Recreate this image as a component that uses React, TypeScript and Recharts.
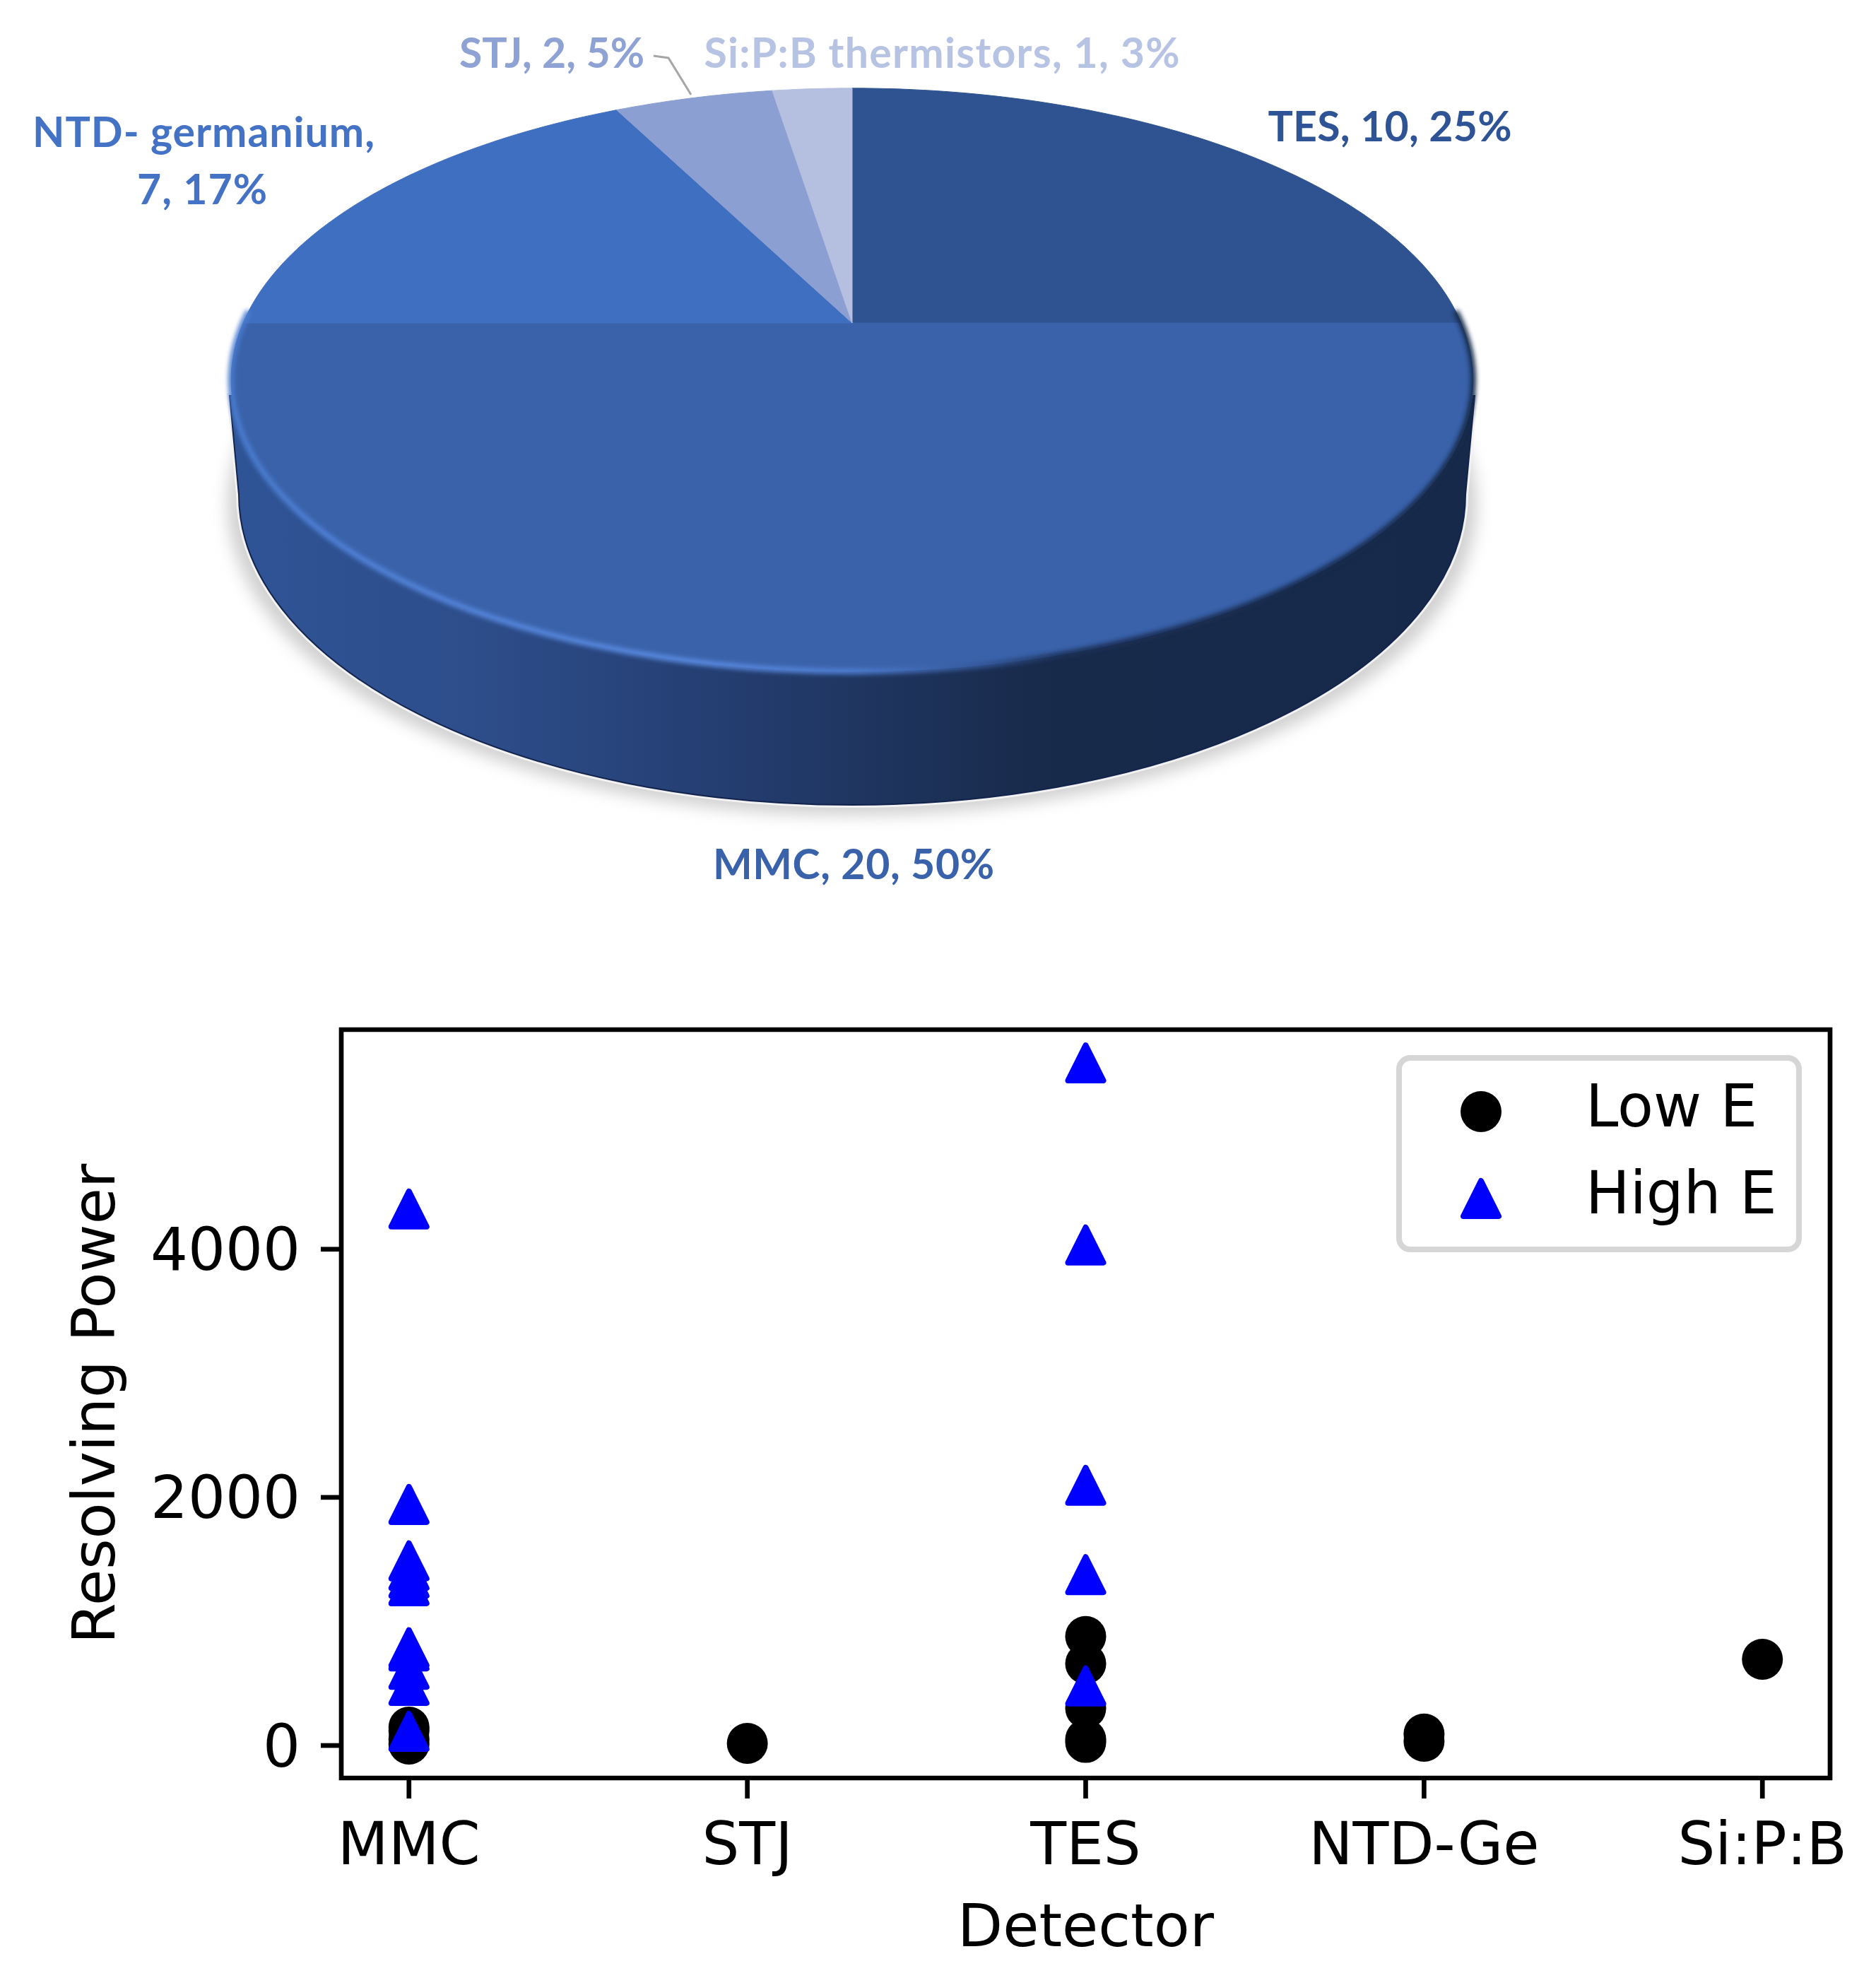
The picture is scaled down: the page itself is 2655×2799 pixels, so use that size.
// 검출기 파이차트 + 분해능 산점도

import React from 'react';
import {
  PieChart,
  Pie,
  ScatterChart,
  Scatter,
  XAxis,
  YAxis,
  Legend,
  ReferenceArea,
} from 'recharts';

const PIE_NAMES = ['TES', 'MMC', 'NTD- germanium', 'STJ', 'Si:P:B thermistors'];
const PIE_VALUES = [10, 20, 7, 2, 1];
const PIE_PERCENTS = [25, 50, 17, 5, 3];
const PIE_COLORS = ['#2f5391', '#3a62aa', '#3f6fc0', '#8c9fd2', '#b5c0e0'];
const LABEL_COLORS = ['#2f5496', '#3a62aa', '#4472c4', '#8fa2d4', '#b7c3e2'];

const DETECTORS = ['MMC', 'STJ', 'TES', 'NTD-Ge', 'Si:P:B'];

const LOW_MMC = [148, 120, 50, 11];
const LOW_STJ = [17];
const LOW_TES = [879, 660, 300, 50, 25];
const LOW_NTD = [93, 34];
const LOW_SIPB = [695];

const HIGH_MMC = [4324, 1943, 1488, 1411, 1349, 1288, 788, 762, 614, 484, 114];
const HIGH_TES = [5502, 4034, 2097, 1377, 480];

const Y_TICKS = [0, 2000, 4000];
const X_TICKS = [0, 1, 2, 3, 4];
const X_DOMAIN = [-0.2, 4.2];
const Y_DOMAIN = [-262, 5770];

const pieData = PIE_NAMES.map((name, i) => ({
  name,
  value: PIE_VALUES[i],
  fill: PIE_COLORS[i],
}));

const toPoints = (x: number, values: number[]) => values.map((y) => ({ x, y }));

const lowData = [
  ...toPoints(0, LOW_MMC),
  ...toPoints(1, LOW_STJ),
  ...toPoints(2, LOW_TES),
  ...toPoints(3, LOW_NTD),
  ...toPoints(4, LOW_SIPB),
];
const highData = [...toPoints(0, HIGH_MMC), ...toPoints(2, HIGH_TES)];

const MPL_FONT = '"DejaVu Sans"';
const MPL_SIZE = 83.3;
const LINE_W = 6.67;

// 원근 투영 (위쪽 면)
const PIE_CX = 1206;
const PIE_CY = 457;
const PERSP = 0.195;
const RAD_X = 862;
const RAD_Y = 397;

const project = (deg: number) => {
  const t = (deg * Math.PI) / 180;
  const d = 1 + PERSP * Math.sin(t);
  return [PIE_CX + (RAD_X * Math.cos(t)) / d, PIE_CY - (RAD_Y * Math.sin(t)) / d];
};

function PerspectiveSlice(props: any) {
  const { startAngle, endAngle, fill } = props;
  const steps = Math.max(4, Math.ceil(Math.abs(endAngle - startAngle)));
  let d = `M ${PIE_CX} ${PIE_CY}`;
  for (let i = 0; i <= steps; i++) {
    const [x, y] = project(startAngle + ((endAngle - startAngle) * i) / steps);
    d += ` L ${x.toFixed(1)} ${y.toFixed(1)}`;
  }
  return <path d={`${d} Z`} fill={fill} stroke={fill} strokeWidth={1} />;
}

// 라벨 위치
const LABEL_POS = [
  { x: 1967, y: 177, w: 345 },
  { x: 1208, y: 1221, w: 398 },
  { x: 288, y: 185, w: 484 },
  { x: 781, y: 73, w: 262 },
  { x: 1333, y: 73, w: 673 },
];

function renderPieLabel(props: any) {
  const { index } = props;
  const pos = LABEL_POS[index];
  const common = {
    textAnchor: 'middle' as const,
    dominantBaseline: 'central' as const,
    fontFamily: 'Lato',
    fontWeight: 700,
    fontSize: 59,
    fill: LABEL_COLORS[index],
    textLength: pos.w,
  };
  const tail = `${PIE_VALUES[index]}, ${PIE_PERCENTS[index]}%`;
  if (index === 2) {
    return (
      <g key={index}>
        <text x={pos.x} y={pos.y} {...common}>{`${PIE_NAMES[index]},`}</text>
        <text x={pos.x - 2} y={pos.y + 81} {...common} textLength={184}>{tail}</text>
      </g>
    );
  }
  return (
    <text key={index} x={pos.x} y={pos.y} {...common}>
      {`${PIE_NAMES[index]}, ${tail}`}
    </text>
  );
}

function renderPieLabelLine(props: any) {
  if (props.index !== 3) return <g key={props.index} />;
  return (
    <polyline
      key={props.index}
      points="925,79 946,82 978,134"
      fill="none"
      stroke="#a6a6a6"
      strokeWidth={3}
    />
  );
}

// 원기둥 옆면 + 그림자
const WALL_PATH = 'M 325 560 L 338 700 A 868 439 0 0 0 2074 700 L 2087 560 Z';

function PieBase() {
  return (
    <svg width={2655} height={1300} style={{ position: 'absolute', left: 0, top: 0 }}>
      <defs>
        <linearGradient id="wall" x1="0" x2="1" y1="0" y2="0">
          <stop offset="0" stopColor="#2f5496" />
          <stop offset="0.2" stopColor="#2d4d8a" />
          <stop offset="0.38" stopColor="#253f73" />
          <stop offset="0.66" stopColor="#182a4a" />
          <stop offset="1" stopColor="#17294a" />
        </linearGradient>
        <filter id="soft" x="-10%" y="-10%" width="120%" height="120%">
          <feGaussianBlur stdDeviation="11" />
        </filter>
      </defs>
      <ellipse cx={1206} cy={714} rx={884} ry={440} fill="#d0d0d0" filter="url(#soft)" />
      <path d={WALL_PATH} fill="#f2f2f2" stroke="#f2f2f2" strokeWidth={8} />
      <path d={WALL_PATH} fill="url(#wall)" stroke="#12234c" strokeWidth={2} />
    </svg>
  );
}

// 위쪽 면 가장자리 하이라이트
function PieRim() {
  return (
    <svg width={2655} height={1300} style={{ position: 'absolute', left: 0, top: 0, pointerEvents: 'none' }}>
      <defs>
        <linearGradient id="rim" gradientUnits="userSpaceOnUse" x1="327" x2="2085" y1="0" y2="0">
          <stop offset="0" stopColor="#4a7ccf" />
          <stop offset="0.11" stopColor="#5282d8" />
          <stop offset="0.38" stopColor="#5a8ae0" />
          <stop offset="0.5" stopColor="#4f7dd0" />
          <stop offset="0.6" stopColor="#34589a" />
          <stop offset="0.67" stopColor="#1c3058" />
          <stop offset="1" stopColor="#172a4a" />
        </linearGradient>
        <filter id="softRim" x="-5%" y="-5%" width="110%" height="110%">
          <feGaussianBlur stdDeviation="3" />
        </filter>
      </defs>
      <path
        d="M 352 440 A 879 412.5 0 1 0 2060 440"
        fill="none"
        stroke="url(#rim)"
        strokeWidth={8}
        filter="url(#softRim)"
      />
    </svg>
  );
}

function CircleMark(props: any) {
  return <circle cx={props.cx} cy={props.cy} r={29} fill="#000" />;
}

function TriangleMark(props: any) {
  const { cx, cy } = props;
  return (
    <polygon
      points={`${cx},${cy - 25} ${cx + 25},${cy + 25} ${cx - 25},${cy + 25}`}
      fill="#0000ff"
      stroke="#0000ff"
      strokeWidth={8}
      strokeLinejoin="round"
    />
  );
}

function ScatterLegend({ payload }: any) {
  const rows = [
    { cy: 80, base: 101 },
    { cy: 203, base: 224 },
  ];
  return (
    <svg width={574} height={279} style={{ display: 'block' }}>
      <rect x={4} y={4} width={566} height={271} rx={16} fill="#fff" stroke="#d6d6d6" strokeWidth={8} />
      {(payload || []).map((entry: any, i: number) => (
        <g key={entry.value}>
          {i === 0 ? (
            <CircleMark cx={120} cy={rows[i].cy} />
          ) : (
            <TriangleMark cx={120} cy={rows[i].cy} />
          )}
          <text x={268} y={rows[i].base} fontFamily={MPL_FONT} fontSize={MPL_SIZE} fill="#000">
            {entry.value}
          </text>
        </g>
      ))}
    </svg>
  );
}

export default function App() {
  return (
    <div style={{ position: 'absolute', left: 0, top: 0, width: 2655, height: 2799, background: '#fff', overflow: 'hidden' }}>
      <PieBase />
      <div style={{ position: 'absolute', left: 0, top: 0 }}>
        <PieChart width={2655} height={1300} margin={{ top: 0, right: 0, bottom: 0, left: 0 }}>
          <Pie
            data={pieData}
            dataKey="value"
            nameKey="name"
            cx={PIE_CX}
            cy={PIE_CY}
            outerRadius={400}
            startAngle={90}
            endAngle={-270}
            stroke="none"
            shape={PerspectiveSlice}
            label={renderPieLabel}
            labelLine={renderPieLabelLine}
            isAnimationActive={false}
          />
        </PieChart>
      </div>
      <PieRim />
      <div style={{ position: 'absolute', left: 0, top: 1380 }}>
        <ScatterChart width={2655} height={1419} margin={{ top: 77, right: 65, bottom: 0, left: 0 }}>
          <XAxis
            type="number"
            dataKey="x"
            domain={X_DOMAIN}
            ticks={X_TICKS}
            interval={0}
            height={283}
            allowDataOverflow
            tickFormatter={(v: number) => DETECTORS[v]}
            axisLine={false}
            tickSize={29}
            tickMargin={34}
            tickLine={{ stroke: '#000', strokeWidth: LINE_W }}
            tick={{ fontFamily: MPL_FONT, fontSize: MPL_SIZE, fill: '#000' }}
            label={{
              value: 'Detector',
              position: 'insideBottom',
              offset: 45,
              fontFamily: MPL_FONT,
              fontSize: MPL_SIZE,
              fill: '#000',
            }}
          />
          <YAxis
            type="number"
            dataKey="y"
            domain={Y_DOMAIN}
            ticks={Y_TICKS}
            interval={0}
            width={483}
            allowDataOverflow
            axisLine={false}
            tickSize={29}
            tickMargin={29}
            tickLine={{ stroke: '#000', strokeWidth: LINE_W }}
            tick={{ fontFamily: MPL_FONT, fontSize: MPL_SIZE, fill: '#000' }}
            label={{
              value: 'Resolving Power',
              angle: -90,
              position: 'insideLeft',
              offset: 132,
              style: { textAnchor: 'middle' },
              fontFamily: MPL_FONT,
              fontSize: MPL_SIZE,
              fill: '#000',
            }}
          />
          <ReferenceArea
            x1={X_DOMAIN[0]}
            x2={X_DOMAIN[1]}
            y1={Y_DOMAIN[0]}
            y2={Y_DOMAIN[1]}
            fill="none"
            stroke="#000"
            strokeWidth={LINE_W}
          />
          <Scatter name="Low E" data={lowData} shape={CircleMark} isAnimationActive={false} />
          <Scatter name="High E" data={highData} shape={TriangleMark} isAnimationActive={false} />
          <Legend
            layout="horizontal"
            verticalAlign="middle"
            itemSorter={null}
            content={ScatterLegend}
            wrapperStyle={{ left: 1976, top: 113, width: 574, height: 279 }}
          />
        </ScatterChart>
      </div>
    </div>
  );
}
